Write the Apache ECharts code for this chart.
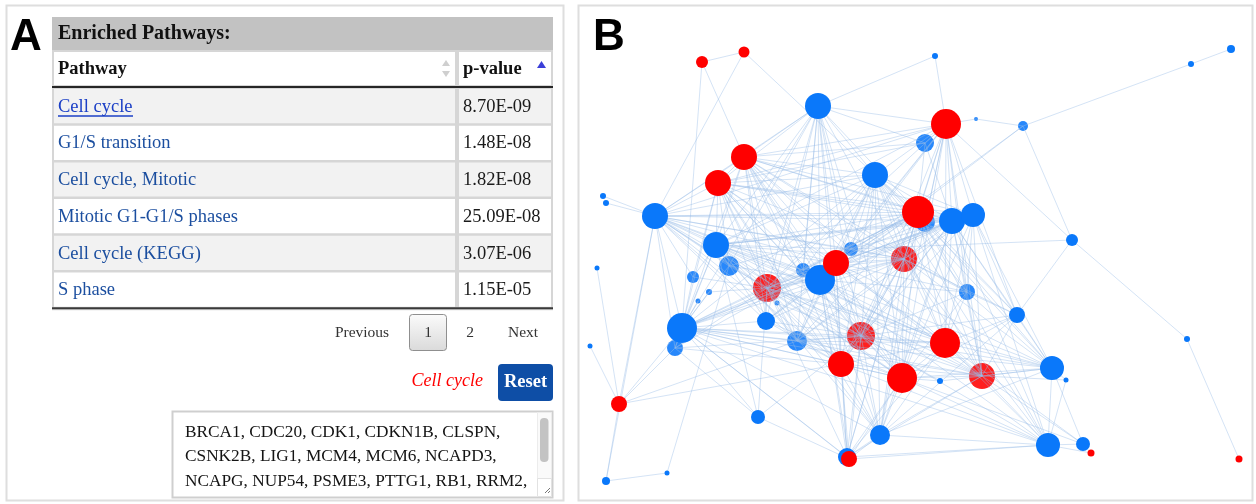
<!DOCTYPE html>
<html>
<head>
<meta charset="utf-8">
<script src="https://cdn.jsdelivr.net/npm/echarts@6/dist/echarts.min.js"></script>
<style>
html,body{margin:0;padding:0;background:#fff;}
#chart{width:1256px;height:504px;}
</style>
</head>
<body>
<div id="chart"></div>
<script>
// ---------------- DATA ----------------
const tableTitle = 'Enriched Pathways:';
const columns = ['Pathway', 'p-value'];
const pathways = ['Cell cycle', 'G1/S transition', 'Cell cycle, Mitotic', 'Mitotic G1-G1/S phases', 'Cell cycle (KEGG)', 'S phase'];
const pValues = ['8.70E-09', '1.48E-08', '1.82E-08', '25.09E-08', '3.07E-06', '1.15E-05'];
const pages = ['Previous', '1', '2', 'Next'];
const selectedPathway = 'Cell cycle';
const genes = ['BRCA1', 'CDC20', 'CDK1', 'CDKN1B', 'CLSPN', 'CSNK2B', 'LIG1', 'MCM4', 'MCM6', 'NCAPD3', 'NCAPG', 'NUP54', 'PSME3', 'PTTG1', 'RB1', 'RRM2'];
const geneLineBreaks = [5, 10, 16];

// network nodes: [id, layoutX, layoutY, degreeSize]
const upNodes = [
  ['R0',702,62,6],['R1',744,52,5.5],['R2',946,124,15],['R3',744,157,13],['R4',718,183,13],
  ['R5',918,212,16],['R6',904,259,13],['R7',836,263,13],['R8',767,288,14],['R9',861,336,14],
  ['R10',945,343,15],['R11',841,364,13],['R12',902,378,15],['R13',982,376,13],['R14',619,404,8],
  ['R15',849,459,8],['R16',1091,453,3.5],['R17',1239,459,3.5]
];
const downNodes = [
  ['B0',818,106,13],['B1',875,175,13],['B2',925,143,9],['B3',935,56,3],['B4',1023,126,5],
  ['B5',976,119,2],['B6',1191,64,3],['B7',1231,49,4],['B8',952,221,13],['B9',973,215,12],
  ['B10',925,222,10],['B11',1072,240,6],['B12',655,216,13],['B13',603,196,3],['B14',606,203,3],
  ['B15',716,245,13],['B16',729,266,10],['B17',851,249,7],['B18',803,270,7],['B19',820,280,15],
  ['B20',693,277,6],['B21',709,292,3],['B22',698,301,2.5],['B23',597,268,2.5],['B24',777,303,2.5],
  ['B25',682,328,15],['B26',675,348,8],['B27',766,321,9],['B28',797,341,10],['B29',967,292,8],
  ['B30',1017,315,8],['B31',590,346,2.5],['B32',1052,368,12],['B33',1066,380,2.5],['B34',940,381,3],
  ['B35',758,417,7],['B36',880,435,10],['B37',847,457,9],['B38',1048,445,12],['B39',1083,444,7],
  ['B40',1187,339,3],['B41',606,481,4],['B42',667,473,2.5]
];
// nodes partly covered by edges
const underEdgeNodes = ['B2','B4','B5','B10','B16','B17','B18','B20','B21','B22','B24','B26','B28','B29','R6','R8','R9','R13'];

// adjacency: first id is the source, the rest are its neighbours
const adjacency = [
  'B0 B3 R3 R4 B12 B15 B16 R8 B19 R7 B18 R9 R11 B1 R5 R2 B2 B27 B28 R6 B17 B25 R12',
  'R0 R1 R3 B25',
  'R1 B1 B12',
  'R2 B3 B5 B1 B2 R5 B8 B9 B10 R6 R7 R9 R10 R12 R13 B29 B30 B11 B15 B19 R8 B17 R3 R4 B12 B36',
  'R3 B12 B15 R4 R5 B8 B9 B1 R7 B19 R8 R9 B25 R6 R10 R11 R12 B28 B27 B17 B18 B29 B2',
  'R4 B12 B15 B25 B16 R8 B19 R7 R5 B8 B9 B1 R9 R11 R12 R10 B28 B27 B36 R6 B20 B2',
  'B1 R5 B8 B9 B10 R6 R7 B19 R8 B15 B12 R9 R10 R12 R13 B29 B30 B32 B17 B18 R11 B28 B36 B38 B25',
  'R5 B12 B15 B16 B8 B9 B10 R6 R7 B19 R8 R9 R10 R11 R12 R13 B29 B30 B32 B25 B26 B27 B28 B36 B37 B38 B17 B18 B2',
  'B8 B9 B10 B12 B15 B25 R7 B19 R8 R6 R9 R10 R11 R12 R13 B29 B30 B32 B36 B38 B17 B2',
  'B9 B10 B12 B15 B25 R7 B19 R6 R9 R10 R12 R13 B29 B30 B32 B38 B28',
  'B12 B13 B14 R14 B15 B16 B25 B26 R8 B19 R7 R9 R11 R6 R10 R12 B28 B27 B17 B18 B20 B41',
  'B15 B16 B25 B26 R8 B19 R7 R9 R11 R6 R10 R12 R13 B27 B28 B17 B18 B36 B35 B20 B10',
  'B19 R7 R8 R6 R9 R10 R11 R12 R13 B25 B27 B28 B29 B36 B37 R15 B32 B38 B17 B18 B16 B4',
  'R7 R8 R6 R9 R10 R11 R12 R13 B25 B27 B28 B29 B36 B37 B32 B4',
  'R8 R6 R9 R10 R11 R12 R13 B25 B26 B27 B28 B36 B37 B32 B35 B16 B20 B21 B24 B10',
  'R6 R9 R10 R11 R12 R13 B25 B27 B28 B29 B30 B32 B36 B37 B38 B17 B18',
  'R9 R10 R11 R12 R13 B25 B26 B27 B28 B29 B30 B32 B36 B37 R15 B38 B35 B34 B24 B10',
  'R10 R11 R12 R13 B25 B28 B29 B30 B32 B36 B37 B38 B39',
  'R11 R12 R13 B25 B26 B27 B28 B36 B37 R15 B38 R14',
  'R12 R13 B25 B27 B28 B29 B30 B32 B36 B37 R15 B38 B39 B34',
  'R13 B25 B28 B29 B30 B32 B36 B37 B38 B39 B33',
  'B25 B26 R14 B27 B28 B36 B37 R15 B35 B20 B21 B22 B16 B32 B38',
  'B32 B33 B38 B39 B30 B29 B34',
  'B38 B39 R16 R15 B37 B36 B33',
  'B39 R16',
  'B36 R15 B37 B30 B32',
  'B35 R15 B26',
  'B30 B11 B29',
  'B11 B40 B17 B4',
  'B40 R17',
  'B4 B5 B6',
  'B6 B7',
  'R14 B23 B31 B41 B26 B28',
  'B41 B42',
  'B42 B16',
  'B17 B18'
];

// ---------------- BUILD ----------------
const COLORS = { up: '#ff0000', down: '#0a78fa', edge: '#98bde8', link: '#1b3fc6', path: '#1b4e9f' };
const SERIF = '"Liberation Serif","Times New Roman",serif';
const SANS = '"Liberation Sans",Arial,sans-serif';

const pos = {};
upNodes.forEach(n => pos[n[0]] = { x: n[1], y: n[2], s: n[3], g: 'up' });
downNodes.forEach(n => pos[n[0]] = { x: n[1], y: n[2], s: n[3], g: 'down' });
const underSet = new Set(underEdgeNodes);

const seen = new Set();
const edgeData = [];
adjacency.forEach(line => {
  const ids = line.split(' ');
  const src = ids[0];
  ids.slice(1).forEach(t => {
    const key = [src, t].sort().join('|');
    if (seen.has(key) || !pos[t] || !pos[src]) return;
    seen.add(key);
    edgeData.push({ coords: [[pos[src].x, pos[src].y], [pos[t].x, pos[t].y]] });
  });
});

function nodeItems(list) {
  return list.map(id => ({
    name: id,
    value: [pos[id].x, pos[id].y, pos[id].s],
    itemStyle: { color: COLORS[pos[id].g], opacity: underSet.has(id) ? 0.88 : 1 }
  }));
}
const order = downNodes.map(n => n[0]).concat(upNodes.map(n => n[0]));
const behindIds = order.filter(id => underSet.has(id));
const frontIds = order.filter(id => !underSet.has(id));

// ---------- panel A graphics ----------
const g = [];
function txt(x, y, text, o) {
  g.push(Object.assign({ type: 'text', x: x, y: y, silent: true, style: Object.assign({
    text: text, fill: '#111', fontFamily: SERIF, fontSize: 18.5, textVerticalAlign: 'middle', textAlign: 'left'
  }, o || {}) }));
}
// panel frames
g.push({ type: 'rect', shape: { x: 6.5, y: 5.5, width: 557, height: 495 }, style: { fill: 'none', stroke: '#dedede', lineWidth: 2 } });
g.push({ type: 'rect', shape: { x: 578.5, y: 5.5, width: 674, height: 495 }, style: { fill: 'none', stroke: '#dedede', lineWidth: 2 } });
txt(10, 38, 'A', { fontFamily: SANS, fontWeight: 'bold', fontSize: 44, fill: '#000' });
txt(593, 38, 'B', { fontFamily: SANS, fontWeight: 'bold', fontSize: 44, fill: '#000' });

// title bar
g.push({ type: 'rect', shape: { x: 52, y: 17, width: 501, height: 33 }, style: { fill: '#c2c2c2' } });
txt(58, 34, tableTitle, { fontWeight: 'bold', fontSize: 20 });

// table
const tX = 52, tW = 501, splitX = 457, headTop = 50, headH = 36, rowH = 36.7;
const rowsTop = headTop + headH + 2;
g.push({ type: 'rect', shape: { x: tX, y: headTop, width: tW, height: headH + 2 + rowH * pathways.length + 2 }, style: { fill: '#d6d6d6' } });
g.push({ type: 'rect', shape: { x: tX + 2, y: headTop + 2, width: splitX - tX - 4, height: headH - 3 }, style: { fill: '#fff' } });
g.push({ type: 'rect', shape: { x: splitX + 2, y: headTop + 2, width: tX + tW - splitX - 4, height: headH - 3 }, style: { fill: '#fff' } });
g.push({ type: 'rect', shape: { x: tX, y: headTop + headH, width: tW, height: 2 }, style: { fill: '#262626' } });
txt(58, headTop + 19, columns[0], { fontWeight: 'bold' });
txt(463, headTop + 19, columns[1], { fontWeight: 'bold' });
g.push({ type: 'polygon', shape: { points: [[442, 66], [450, 66], [446, 60]] }, style: { fill: '#cfcfcf' } });
g.push({ type: 'polygon', shape: { points: [[442, 71], [450, 71], [446, 77]] }, style: { fill: '#cfcfcf' } });
g.push({ type: 'polygon', shape: { points: [[537, 68], [546, 68], [541.5, 61]] }, style: { fill: '#3b3fd8' } });

pathways.forEach((p, i) => {
  const y0 = rowsTop + i * rowH;
  const fill = i % 2 === 0 ? '#f2f2f2' : '#ffffff';
  g.push({ type: 'rect', shape: { x: tX + 2, y: y0 + 1, width: splitX - tX - 4, height: rowH - 2.5 }, style: { fill: fill } });
  g.push({ type: 'rect', shape: { x: splitX + 2, y: y0 + 1, width: tX + tW - splitX - 4, height: rowH - 2.5 }, style: { fill: fill } });
  const isSel = p === selectedPathway && i === 0;
  txt(58, y0 + rowH / 2 + 0.5, p, { fill: isSel ? COLORS.link : COLORS.path });
  if (isSel) {
    g.push({ type: 'rect', shape: { x: 58, y: y0 + rowH / 2 + 9, width: 75, height: 1.3 }, style: { fill: COLORS.link } });
  }
  txt(463, y0 + rowH / 2 + 0.5, pValues[i], { fill: '#1a1a1a' });
});
const tableBottom = rowsTop + rowH * pathways.length;
g.push({ type: 'rect', shape: { x: tX, y: tableBottom - 1, width: tW, height: 2 }, style: { fill: '#3a3a3a' } });

// pagination
g.push({ type: 'rect', shape: { x: 409.5, y: 314.5, width: 37, height: 36, r: 3 },
  style: { fill: { type: 'linear', x: 0, y: 0, x2: 0, y2: 1, colorStops: [{ offset: 0, color: '#fbfbfb' }, { offset: 1, color: '#dadada' }] }, stroke: '#8f8f8f', lineWidth: 1 } });
const pageX = [362, 428, 470, 523];
pages.forEach((p, i) => txt(pageX[i], 332.5, p, { fontSize: 15.5, textAlign: 'center', fill: '#333' }));

// selected pathway + reset
txt(483, 381, selectedPathway, { fontStyle: 'italic', fontSize: 18, fill: '#ff0000', textAlign: 'right' });
g.push({ type: 'rect', shape: { x: 498, y: 364, width: 55, height: 37, r: 4 }, style: { fill: '#0e4ea6' } });
txt(525.5, 382.5, 'Reset', { fontWeight: 'bold', fontSize: 18.5, fill: '#ffffff', textAlign: 'center' });

// gene textarea
g.push({ type: 'rect', shape: { x: 172.5, y: 411.5, width: 380, height: 86 }, style: { fill: '#fff', stroke: '#cfcfcf', lineWidth: 2 } });
g.push({ type: 'rect', shape: { x: 537.5, y: 412.5, width: 14, height: 84 }, style: { fill: '#fafafa', stroke: '#ececec', lineWidth: 1 } });
g.push({ type: 'rect', shape: { x: 540, y: 418, width: 8.5, height: 44, r: 4 }, style: { fill: '#c3c3c3' } });
g.push({ type: 'rect', shape: { x: 537.5, y: 478.5, width: 14, height: 18 }, style: { fill: '#fff', stroke: '#e2e2e2', lineWidth: 1 } });
g.push({ type: 'line', shape: { x1: 545, y1: 493, x2: 550, y2: 488 }, style: { stroke: '#777', lineWidth: 1 } });
g.push({ type: 'line', shape: { x1: 548, y1: 493, x2: 550, y2: 491 }, style: { stroke: '#777', lineWidth: 1 } });
let start = 0;
geneLineBreaks.forEach((end, li) => {
  const line = genes.slice(start, end).join(', ') + ',';
  start = end;
  txt(185, 432 + li * 24.5, line, { fontSize: 17.3, fill: '#141414' });
});

// ---------------- CHART ----------------
const chart = echarts.init(document.getElementById('chart'), null, { renderer: 'canvas' });
chart.setOption({
  backgroundColor: '#ffffff',
  animation: false,
  grid: { left: 578, top: 5, width: 675, height: 495, containLabel: false },
  xAxis: { type: 'value', min: 578, max: 1253, show: false },
  yAxis: { type: 'value', min: 5, max: 500, inverse: true, show: false },
  graphic: { elements: g },
  series: [
    { type: 'scatter', z: 2, silent: true, symbol: 'circle',
      symbolSize: v => v[2] * 2, data: nodeItems(behindIds) },
    { type: 'lines', coordinateSystem: 'cartesian2d', z: 3, silent: true,
      lineStyle: { color: COLORS.edge, width: 1, opacity: 0.42 }, data: edgeData },
    { type: 'scatter', z: 4, silent: true, symbol: 'circle',
      symbolSize: v => v[2] * 2, data: nodeItems(frontIds) }
  ]
});
</script>
</body>
</html>
